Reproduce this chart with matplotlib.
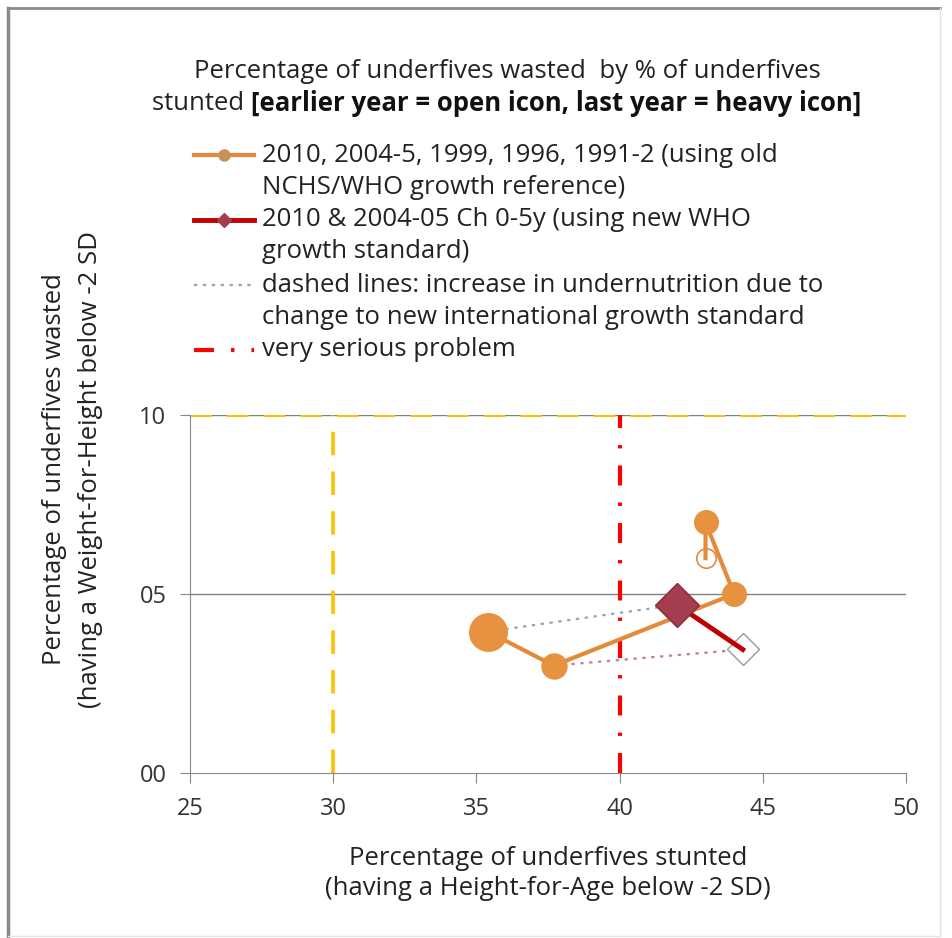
import matplotlib
matplotlib.use('Agg')
import matplotlib.pyplot as plt
from matplotlib.lines import Line2D

plt.rcParams['font.family'] = ['Open Sans', 'DejaVu Sans']

# old NCHS/WHO reference: 2010, 2004-5, 1999, 1996, 1991-2
old_years = ['2010', '2004-5', '1999', '1996', '1991-2']
old_stunted = [35.4, 37.7, 44.0, 43.0, 43.0]
old_wasted = [3.95, 3.0, 5.0, 7.0, 6.0]

# new WHO growth standard: 2010, 2004-05
new_years = ['2010', '2004-05']
new_stunted = [42.0, 44.3]
new_wasted = [4.7, 3.45]

# thresholds
stunt_high = 30
stunt_very_high = 40
waste_line = 10

x_ticks = [25, 30, 35, 40, 45, 50]
y_ticks = [0, 5, 10]

orange = '#E58A3A'
orange_fill = '#E6923F'
darkred = '#C00000'
diamond_fill = '#A43E4E'
yellow = '#FFC000'
txt_color = '#222222'
fs = 18.5
fs_tick = 17

fig = plt.figure(figsize=(9.52, 9.38), dpi=100)
ax = fig.add_axes([190 / 952, 1 - 773 / 938, 716 / 952, 358 / 938])

ax.set_xlim(25, 50)
ax.set_ylim(0, 10)
ax.set_xticks(x_ticks)
ax.set_yticks(y_ticks)
ax.set_yticklabels(['%02d' % v for v in y_ticks])
ax.tick_params(labelsize=fs_tick, colors='#333333', length=7, color='#888888')
ax.tick_params(axis='x', pad=10)
ax.tick_params(axis='y', pad=10)
for s in ['top', 'right']:
    ax.spines[s].set_visible(False)
for s in ['left', 'bottom']:
    ax.spines[s].set_color('#888888')
ax.axhline(5, color='#808080', lw=1, zorder=1)
ax.axhline(10, color='#808080', lw=1, zorder=1)

# threshold lines
ax.axhline(waste_line, color=yellow, lw=2.2, linestyle=(0, (7, 5)), zorder=2)
ax.axvline(stunt_high, color=yellow, lw=2.6, linestyle=(0, (6.5, 4.5)), zorder=2)
ax.axvline(stunt_very_high, color='#FF0000', lw=3, linestyle=(0, (4.8, 4.1, 0.8, 4.1)), zorder=2)

# dotted connectors old -> new
ax.plot([old_stunted[0], new_stunted[0]], [old_wasted[0], new_wasted[0]],
        color='#8FA8B8', lw=1.6, linestyle=(0, (1.5, 2.5)), zorder=3)
ax.plot([old_stunted[1], new_stunted[1]], [old_wasted[1], new_wasted[1]],
        color='#C07CA8', lw=1.6, linestyle=(0, (1.5, 2.5)), zorder=3)

# old reference series
ax.plot(old_stunted, old_wasted, color=orange, lw=3, zorder=4)
old_sizes = [27, 18, 17, 17, 14]
for i in range(len(old_years)):
    if i == len(old_years) - 1:
        ax.plot(old_stunted[i], old_wasted[i], 'o', ms=old_sizes[i], mfc='white',
                mec=orange, mew=1.2, zorder=3.5)
    else:
        ax.plot(old_stunted[i], old_wasted[i], 'o', ms=old_sizes[i], mfc=orange_fill,
                mec=orange_fill, zorder=5)

# new standard series
ax.plot(new_stunted, new_wasted, color=darkred, lw=3.5, zorder=4)
ax.plot(new_stunted[0], new_wasted[0], 'D', ms=22, mfc=diamond_fill, mec='#8A2A3A',
        mew=1, zorder=6)
ax.plot(new_stunted[1], new_wasted[1], 'D', ms=16, mfc='white', mec='#999999',
        mew=1, zorder=3.5)


def fy(py):
    return 1 - py / 938


def fx(px):
    return px / 952


# axis labels
fig.text(fx(548), fy(858), 'Percentage of underfives stunted', ha='center',
         va='center', fontsize=fs, color=txt_color)
fig.text(fx(548), fy(888), '(having a Height-for-Age below -2 SD)', ha='center',
         va='center', fontsize=fs, color=txt_color)
fig.text(fx(55), fy(665), 'Percentage of underfives wasted', ha='center',
         va='bottom', rotation=90, fontsize=fs, color=txt_color)
fig.text(fx(91), fy(708), '(having a Weight-for-Height below -2 SD', ha='center',
         va='bottom', rotation=90, fontsize=fs, color=txt_color)

# title
fig.text(fx(507), fy(71), 'Percentage of underfives wasted  by % of underfives',
         ha='center', va='center', fontsize=fs, color=txt_color)
t1 = fig.text(0, fy(103), 'stunted ', ha='left', va='center', fontsize=fs,
              color=txt_color)
t2 = fig.text(0, fy(103), '[earlier year = open icon, last year = heavy icon]',
              ha='left', va='center', fontsize=fs, fontweight='bold', color='#111111')
r = fig.canvas.get_renderer()
w1 = t1.get_window_extent(r).width / 952
w2 = t2.get_window_extent(r).width / 952
x0 = fx(507) - (w1 + w2) / 2
t1.set_x(x0)
t2.set_x(x0 + w1)

# legend drawn by hand
leg_x0, leg_x1, txt_x = 194, 254, 262
fig.add_artist(Line2D([fx(leg_x0), fx(leg_x1)], [fy(155), fy(155)], color=orange, lw=3,
                      transform=fig.transFigure))
fig.add_artist(Line2D([fx(224)], [fy(155)], marker='o', ms=8, mfc='#C8905A', mec='#C8905A',
                      transform=fig.transFigure))
fig.add_artist(Line2D([fx(leg_x0), fx(leg_x1)], [fy(220), fy(220)], color=darkred, lw=3.5,
                      transform=fig.transFigure))
fig.add_artist(Line2D([fx(224)], [fy(220)], marker='D', ms=7, mfc=diamond_fill,
                      mec=diamond_fill, transform=fig.transFigure))
fig.add_artist(Line2D([fx(leg_x0), fx(leg_x1)], [fy(285), fy(285)], color='#8FA8B8',
                      lw=1.6, linestyle=(0, (1.5, 2.5)), transform=fig.transFigure))
fig.add_artist(Line2D([fx(leg_x0), fx(leg_x1)], [fy(350), fy(350)], color='#FF0000',
                      lw=3, linestyle=(0, (4.8, 4.1, 0.8, 4.1)), transform=fig.transFigure))

legend_lines = [
    (155, '2010, 2004-5, 1999, 1996, 1991-2 (using old'),
    (187, 'NCHS/WHO growth reference)'),
    (220, '2010 & 2004-05 Ch 0-5y (using new WHO'),
    (251, 'growth standard)'),
    (285, 'dashed lines: increase in undernutrition due to'),
    (318, 'change to new international growth standard'),
    (350, 'very serious problem'),
]
for py, s in legend_lines:
    fig.text(fx(txt_x), fy(py), s, ha='left', va='center', fontsize=fs, color=txt_color)

# outer frame
fig.add_artist(Line2D([fx(8), fx(8)], [fy(8), fy(936)], color='#8A8A8A', lw=2.5,
                      transform=fig.transFigure))
fig.add_artist(Line2D([fx(8), fx(940)], [fy(8), fy(8)], color='#8A8A8A', lw=2,
                      transform=fig.transFigure))
fig.add_artist(Line2D([fx(940), fx(940)], [fy(8), fy(936)], color='#E4E4E4', lw=1,
                      transform=fig.transFigure))
fig.add_artist(Line2D([fx(8), fx(940)], [fy(936), fy(936)], color='#E4E4E4', lw=1,
                      transform=fig.transFigure))

fig.savefig('out.png', dpi=100)
